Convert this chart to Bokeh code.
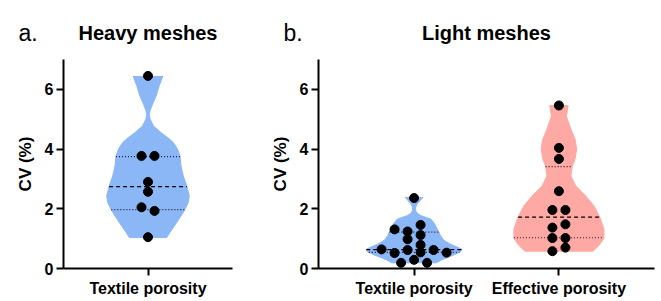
import numpy as np
from bokeh.plotting import figure
from bokeh.layouts import row, column
from bokeh.models import Range1d, FixedTicker
from bokeh.core.properties import value
from bokeh.embed import file_html
from bokeh.resources import INLINE

# ---------------- data ----------------
# Heavy meshes - textile porosity
heavy_values = [6.45, 3.77, 3.77, 2.90, 2.57, 2.05, 1.93, 1.05]
heavy_slots = [0, -1, 1, 0, 0, -1, 1, 0]
heavy_quart = [1.97, 2.74, 3.75]          # Q1, median, Q3
heavy_prof_y = [6.43, 6.1, 5.77, 5.5, 5.3, 5.15, 5.0, 4.77, 4.54, 4.35, 4.21, 4.0,
                3.77, 3.43, 3.1, 2.77, 2.43, 2.21, 1.88, 1.54, 1.21, 1.04]
heavy_prof_w = [14.7, 11, 8, 4.5, 2.2, 1.3, 2.2, 5.5, 13.5, 21, 25.5, 29.5,
                32, 33, 35.3, 38.7, 41.3, 40.3, 35.3, 28.7, 22, 18.7]

# Light meshes - textile porosity
light_tex_values = [2.36, 1.31, 1.24, 1.46, 1.12, 0.98, 0.79, 0.64, 0.52, 0.62,
                    0.54, 0.62, 0.53, 0.19, 0.29, 0.19]
light_tex_slots = [0, -3, -1, 1, 1, -1, 1, -5, -3, -1, 1, 3, 5, -2, 0, 2]
light_tex_quart = [0.54, 0.63, 1.22]
light_tex_prof_y = [2.38, 2.27, 2.16, 2.05, 1.95, 1.85, 1.77, 1.65, 1.5, 1.3, 1.1,
                    0.95, 0.82, 0.72, 0.64, 0.56, 0.47, 0.38, 0.28, 0.19]
light_tex_prof_w = [8.7, 6, 3, 1.6, 1.5, 3, 7, 17, 20.5, 23.5, 26.5,
                    29.5, 36, 43, 48, 46.5, 41, 34, 27, 22]

# Light meshes - effective porosity
light_eff_values = [5.46, 4.04, 3.67, 2.59, 1.96, 1.96, 1.48, 1.37, 1.02, 1.02, 0.70, 0.58]
light_eff_slots = [0, 0, 0, 0, -1, 1, 1, -1, -1, 1, 1, -1]
light_eff_quart = [1.03, 1.72, 3.41]
light_eff_prof_y = [5.46, 5.1, 4.66, 4.32, 3.99, 3.66, 3.41, 3.1, 2.77, 2.43, 2.1,
                    1.71, 1.32, 1.01, 0.77, 0.58]
light_eff_prof_w = [9.2, 7.5, 12, 16.3, 17.8, 16, 13.3, 12, 16.7, 26.7, 35,
                    41, 45, 45, 40, 34]

heavy_cats = ["Textile porosity"]
light_cats = ["Textile porosity", "Effective porosity"]
y_ticks = [0, 2, 4, 6]
panel_letters = ["a.", "b."]
panel_titles = ["Heavy meshes", "Light meshes"]

# ---------------- style ----------------
FONT = "Liberation Sans"
BLUE = "#8BB7F7"
PINK = "#FFA9A4"
SLOT_PX = 6.5


def style_fig(p, ticks_x, labels_x):
    p.xaxis.ticker = FixedTicker(ticks=ticks_x)
    p.xaxis.major_label_overrides = {t: l for t, l in zip(ticks_x, labels_x)}
    p.yaxis.ticker = FixedTicker(ticks=y_ticks)
    p.yaxis.axis_label = "CV (%)"
    for ax in (p.xaxis, p.yaxis):
        ax.axis_line_width = 2
        ax.axis_line_color = "black"
        ax.major_tick_line_width = 2
        ax.major_tick_line_color = "black"
        ax.major_tick_out = 7
        ax.major_tick_in = 0
        ax.minor_tick_line_color = None
        ax.major_label_text_font = FONT
        ax.major_label_text_font_style = "bold"
        ax.major_label_text_font_size = "16px"
        ax.major_label_text_color = "black"
    p.xaxis.major_label_standoff = 4
    p.yaxis.major_label_standoff = 3
    p.yaxis.axis_label_text_font = FONT
    p.yaxis.axis_label_text_font_style = "bold"
    p.yaxis.axis_label_text_font_size = "17px"
    p.yaxis.axis_label_text_color = "black"
    p.yaxis.axis_label_standoff = 7
    p.xgrid.visible = False
    p.ygrid.visible = False
    p.outline_line_color = None


def draw_violin(p, center, ppu, prof_y, prof_w, quart, values, slots, color):
    py = np.array(prof_y, dtype=float)
    pw = np.array(prof_w, dtype=float) / ppu
    xs = np.concatenate([center - pw, (center + pw)[::-1]])
    ys = np.concatenate([py, py[::-1]])
    p.patch(xs, ys, fill_color=color, line_color=color, line_width=1)
    order = np.argsort(py)
    for i, q in enumerate(quart):
        hw = np.interp(q, py[order], pw[order])
        if i == 1:
            p.segment(center - hw, q, center + hw, q, line_color="black",
                      line_width=1.3, line_dash="4 3")
        else:
            p.segment(center - hw, q, center + hw, q, line_color="#1a1a2a",
                      line_width=1.2, line_dash="1 2")
    px = center + np.array(slots) * SLOT_PX / ppu
    p.scatter(px, values, size=9, color="black")


# ---------------- header (panel titles) ----------------
HW, HH = 659, 54
head = figure(width=HW, height=HH, output_backend="svg", toolbar_location=None,
              x_range=Range1d(0, HW), y_range=Range1d(HH, 0),
              x_axis_location=None, y_axis_location=None, min_border=0)
head.xgrid.visible = False
head.ygrid.visible = False
head.outline_line_color = None
head.text(x=[18, 283], y=[32, 32], text=panel_letters, text_font=value(FONT),
          text_font_size="23px", text_align="left", text_baseline="alphabetic",
          text_color="black")
head.text(x=[147.5, 486], y=[32, 32], text=panel_titles, text_font=value(FONT),
          text_font_style="bold", text_font_size="20px", text_align="center",
          text_baseline="alphabetic", text_color="black")

# ---------------- left figure ----------------
p1 = figure(width=259, height=245, output_backend="svg", toolbar_location=None,
            x_range=Range1d(0, 2), y_range=Range1d(0, 7),
            min_border_left=63, min_border_right=27, min_border_top=5, min_border_bottom=30)
style_fig(p1, [1], heavy_cats)
ppu1 = 169 / 2.0
draw_violin(p1, 1.0, ppu1, heavy_prof_y, heavy_prof_w, heavy_quart,
            heavy_values, heavy_slots, BLUE)

# ---------------- right figure ----------------
p2 = figure(width=400, height=245, output_backend="svg", toolbar_location=None,
            x_range=Range1d(0.34, 2.66), y_range=Range1d(0, 7),
            min_border_left=59, min_border_right=5, min_border_top=5, min_border_bottom=30)
style_fig(p2, [1, 2], light_cats)
ppu2 = 336 / 2.32
draw_violin(p2, 1.0, ppu2, light_tex_prof_y, light_tex_prof_w, light_tex_quart,
            light_tex_values, light_tex_slots, BLUE)
draw_violin(p2, 2.0, ppu2, light_eff_prof_y, light_eff_prof_w, light_eff_quart,
            light_eff_values, light_eff_slots, PINK)

layout = column(head, row(p1, p2))
open("out.html", "w").write(file_html(layout, INLINE))
